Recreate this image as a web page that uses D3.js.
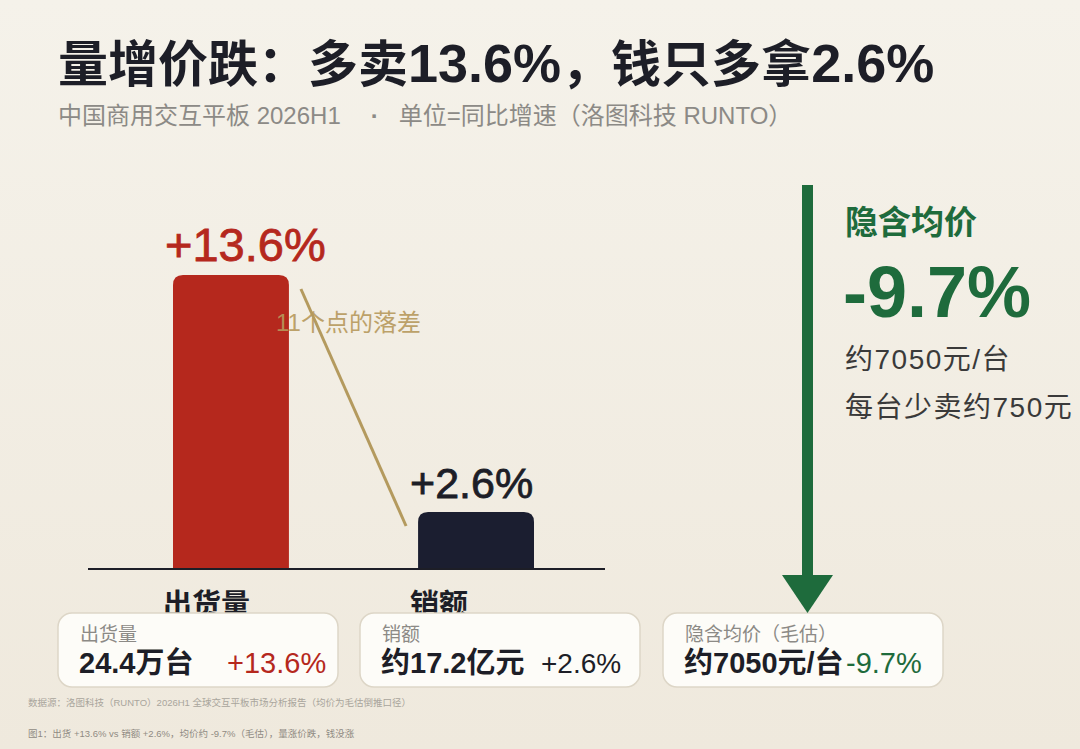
<!DOCTYPE html>
<html><head><meta charset="utf-8">
<script src="https://cdn.jsdelivr.net/npm/d3@7/dist/d3.min.js"></script>
<style>
html,body{margin:0;padding:0;background:#f3efe6;}
svg{display:block;font-family:"Liberation Sans","Noto Sans CJK SC","Noto Sans",sans-serif;}
</style></head>
<body><svg id="c" width="1080" height="749"></svg>
<script>
const categories = ["出货量", "销额"];
const growth = [13.6, 2.6];
const growthLabels = ["+13.6%", "+2.6%"];
const priceChange = -9.7;
const priceLabel = "-9.7%";
const cardTitles = ["出货量", "销额", "隐含均价（毛估）"];
const cardValues = ["24.4万台", "约17.2亿元", "约7050元/台"];
const cardChanges = ["+13.6%", "+2.6%", "-9.7%"];
const sideLines = ["约7050元/台", "每台少卖约750元"];
const gapText = "11个点的落差";
const titleParts = [["量增价跌：多卖", false], ["13.6%", true], ["，钱只多拿", false], ["2.6%", true]];
const subtitleParts = ["中国商用交互平板 2026H1", "·", "单位=同比增速（洛图科技 RUNTO）"];

const svg = d3.select("#c");
const defs = svg.append("defs");
const g = defs.append("linearGradient").attr("id","bg").attr("x1",0).attr("y1",0).attr("x2",0).attr("y2",1);
g.append("stop").attr("offset","0").attr("stop-color","#f5f2ea");
g.append("stop").attr("offset","1").attr("stop-color","#efe9dd");
svg.append("rect").attr("width",1080).attr("height",749).attr("fill","url(#bg)");

// Title
const title = svg.append("text").attr("x",58).attr("y",82).attr("font-size",50).attr("font-weight",700)
  .attr("fill","#1d1e27");
title.selectAll("tspan").data(titleParts).join("tspan")
  .attr("font-size",d=>d[1]?54:50).text(d=>d[0]);
const sub = svg.append("text").attr("x",58).attr("y",124).attr("font-size",24).attr("fill","#8c8a86");
sub.selectAll("tspan").data(subtitleParts).join("tspan")
  .attr("dx",(d,i)=>i===0?0:(i===1?30:20)).attr("font-weight",(d,i)=>i===1?700:400).text(d=>d);

// Scales
const x = d3.scaleBand().domain(categories).range([173, 534]).paddingInner(0.527).paddingOuter(0);
const y = d3.scaleLinear().domain([0, 13.6]).range([568, 275]);
const colors = ["#b5281d", "#1b1e30"];
const labelColors = ["#b5281d", "#1d1e27"];

function barPath(x0, y0, w, h, r) {
  r = Math.min(r, h/2, w/2);
  return `M${x0},${y0+h}V${y0+r}Q${x0},${y0} ${x0+r},${y0}H${x0+w-r}Q${x0+w},${y0} ${x0+w},${y0+r}V${y0+h}Z`;
}
svg.selectAll("path.bar").data(categories).join("path").attr("class","bar")
  .attr("d",(d,i)=>barPath(x(d), y(growth[i]), x.bandwidth(), y(0)-y(growth[i]), 10))
  .attr("fill",(d,i)=>colors[i]);

const axis = d3.axisBottom(x).tickSize(0).tickFormat("");
const ax = svg.append("g").attr("transform",`translate(0,${y(0)})`).call(axis);
ax.select(".domain").remove();
svg.append("line").attr("x1",88).attr("x2",605).attr("y1",y(0)+1).attr("y2",y(0)+1)
  .attr("stroke","#1d1e27").attr("stroke-width",2);

svg.selectAll("text.val").data(categories).join("text").attr("class","val")
  .attr("x",d=>x(d)-8).attr("y",(d,i)=>y(growth[i])-14)
  .attr("font-size",(d,i)=>i===0?47:43)
  .attr("fill",(d,i)=>labelColors[i]).attr("stroke",(d,i)=>labelColors[i]).attr("stroke-width",0.8)
  .text((d,i)=>growthLabels[i]);

svg.selectAll("text.cat").data(categories).join("text").attr("class","cat")
  .attr("x",(d,i)=>x(d)-(i===0?10:8)).attr("y",y(0)+47)
  .attr("font-size",29).attr("font-weight",700).attr("fill","#1d1e27").text(d=>d);

svg.append("line")
  .attr("x1",x(categories[0])+x.bandwidth()+12).attr("y1",y(growth[0])+14)
  .attr("x2",x(categories[1])-12).attr("y2",y(growth[1])+14)
  .attr("stroke","#b49a5e").attr("stroke-width",3);
svg.append("text").attr("x",276).attr("y",331).attr("font-size",24).attr("fill","#b7995c")
  .attr("opacity",0.9).text(gapText);

// cards
const cardX = [58, 360, 663];
const cardG = svg.selectAll("g.card").data(cardTitles).join("g").attr("class","card")
  .attr("transform",(d,i)=>`translate(${cardX[i]},613)`);
cardG.append("rect").attr("width",280).attr("height",74).attr("rx",14)
  .attr("fill","#fdfcf8").attr("stroke","#ddd6c7").attr("stroke-width",1.5);
cardG.append("text").attr("x",22).attr("y",28).attr("font-size",19).attr("fill","#8c8a86").text(d=>d);
cardG.append("text").attr("x",21).attr("y",60).attr("font-size",29).attr("font-weight",700)
  .attr("fill","#1d1e27").text((d,i)=>cardValues[i]);
const chColors = ["#b5281d", "#1d1e27", "#1e6b3c"];
const chX = [169, 181, 183];
cardG.append("text").attr("x",(d,i)=>chX[i]).attr("y",60).attr("font-size",(d,i)=>i===1?28:29)
  .attr("fill",(d,i)=>chColors[i]).text((d,i)=>cardChanges[i]);

// green arrow
const green = "#1e6b3c";
const ay = d3.scaleLinear().domain([0, priceChange]).range([185, 613]);
svg.append("rect").attr("x",802).attr("y",ay(0)).attr("width",11).attr("height",ay(priceChange)-ay(0)-36).attr("fill",green);
svg.append("path").attr("d",`M782,${ay(priceChange)-38}H833L807.5,${ay(priceChange)}Z`).attr("fill",green);

svg.append("text").attr("x",845).attr("y",234).attr("font-size",33).attr("font-weight",700)
  .attr("fill",green).text("隐含均价");
svg.append("text").attr("x",843).attr("y",317).attr("font-size",72).attr("font-weight",700)
  .attr("fill",green).text(priceLabel);
svg.selectAll("text.side").data(sideLines).join("text").attr("class","side")
  .attr("x",845).attr("y",(d,i)=>369+i*48).attr("font-size",28).attr("letter-spacing",1.5)
  .attr("fill","#3a3a3a").text(d=>d);

// footer
svg.append("text").attr("x",28).attr("y",706).attr("font-size",9.5).attr("fill","#a9a59c")
  .text("数据源：洛图科技（RUNTO）2026H1 全球交互平板市场分析报告（均价为毛估倒推口径）");
svg.append("text").attr("x",28).attr("y",737).attr("font-size",9.5).attr("fill","#8f8b83")
  .text("图1：出货 +13.6% vs 销额 +2.6%，均价约 -9.7%（毛估），量涨价跌，钱没涨");
</script></body></html>
